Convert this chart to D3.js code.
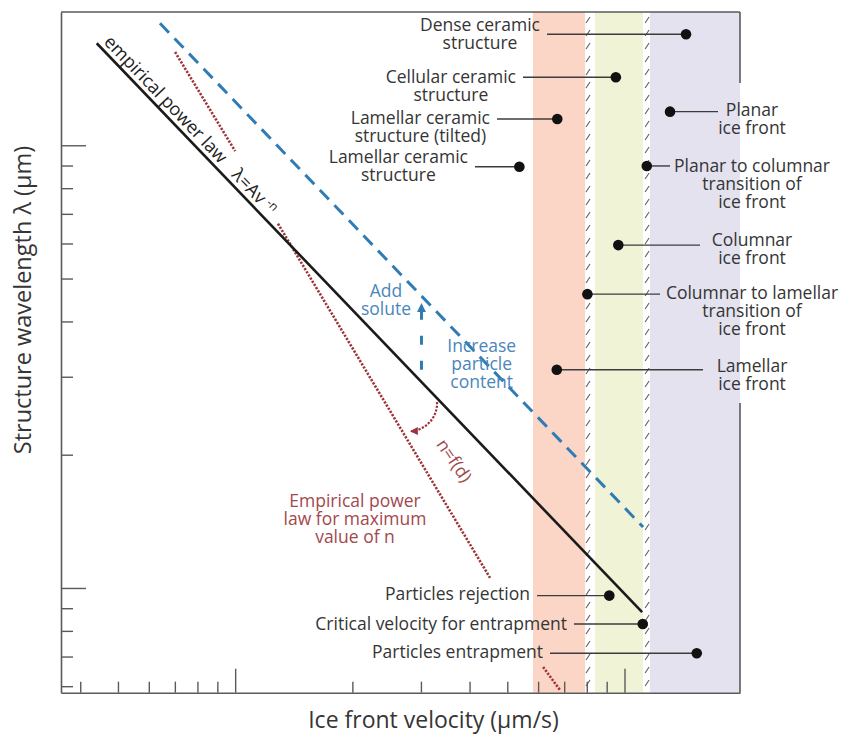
<!DOCTYPE html>
<html><head><meta charset="utf-8">
<script src="https://cdn.jsdelivr.net/npm/d3@7"></script>
<style>
body{margin:0;background:#fff;}
svg{display:block;font-family:"Open Sans",sans-serif;}
</style></head><body>
<svg id="chart" width="847" height="736"></svg>
<script>
// ---------------- data ----------------
const xDomain = [3.57, 198];          // ice front velocity (µm/s), log scale
const yDomain = [5.8, 200];           // structure wavelength (µm), log scale
const xMajorTicks = [10, 100];
const xMinorTicks = [4, 5, 6, 7, 8, 9, 20, 30, 40, 50, 60, 70, 80, 90];
const yMajorTicks = [10, 100];
const yMinorTicks = [6, 7, 8, 9, 20, 30, 40, 50, 60, 70, 80, 90];

// ice-front regimes (velocity ranges)
const bandNames = ["lamellar", "columnar", "planar"];
const bandStart = [58.2, 84.0, 116.3];
const bandEnd   = [79.2, 111.6, 198];
const transitionVelocities = [80.6, 114.3];

// power laws [v, lambda]
const empiricalLaw = [[4.41, 170.0], [111.0, 8.82]];
const soluteLaw    = [[6.41, 188.6], [111.6, 13.73]];
const maxNLawSegments = [
  [[7.01, 162.4], [10.0, 97.0]],
  [[12.88, 66.5], [45.15, 10.54]],
  [[61.8, 6.63], [68.3, 5.88]]
];
const addSoluteArrow = [[30.1, 31.1], [30.1, 44.0]];
const nArc = [[33.0, 26.3], [28.1, 22.6]];

// labelled points
const pointLabels = [
  ["Dense ceramic", "structure"],
  ["Cellular ceramic", "structure"],
  ["Lamellar ceramic", "structure (tilted)"],
  ["Lamellar ceramic", "structure"],
  ["Planar", "ice front"],
  ["Planar to columnar", "transition of", "ice front"],
  ["Columnar", "ice front"],
  ["Columnar to lamellar", "transition of", "ice front"],
  ["Lamellar", "ice front"],
  ["Particles rejection"],
  ["Critical velocity for entrapment"],
  ["Particles entrapment"]
];
const pointV = [143.9, 95.0, 67.2, 53.7, 130.9, 114.1, 96.4, 80.3, 67.0, 91.4, 111.4, 153.3];
const pointL = [178.1, 142.4, 114.6, 89.4, 119.1, 89.8, 59.5, 46.1, 31.1, 9.61, 8.29, 7.12];

const soluteText = ["Add", "solute"];
const particleText = ["Increase", "particle", "content"];
const maxNText = ["Empirical power", "law for maximum", "value of n"];
const xTitle = "Ice front velocity (μm/s)";
const yTitle = "Structure wavelength λ (μm)";

// ---------------- layout / style ----------------
const plot = {left: 61, right: 740, top: 12, bottom: 692.7};
const rightGap = [83, 403];
const bandColors = ["#fbd6c6", "#f1f3d6", "#e3e2ee"];
const axisColor = "#5a5a5a";
const textColor = "#353535";
const blue = "#2f7cb5", blueText = "#4a86bb";
const red = "#9c3336", redText = "#a3484d";
const FS = 17.5, LH = 18, BASE = 6.2;
// side, leader-end x (px), first-line centre offset from dot
const labelLayout = [
  {side: "L", leader: 547, dy: -9.6},
  {side: "L", leader: 523, dy: -0.8},
  {side: "L", leader: 497, dy: -1},
  {side: "L", leader: 475, dy: -10.3},
  {side: "R", leader: 718, dy: -2},
  {side: "R", leader: 670, dy: 0},
  {side: "R", leader: 700, dy: -5.5},
  {side: "R", leader: 660, dy: -1.2},
  {side: "R", leader: 703, dy: -4.5},
  {side: "L", leader: 537, dy: -1.7},
  {side: "L", leader: 574, dy: -0.7},
  {side: "L", leader: 550, dy: -1.6}
];
const rightLabelCenter = 752;

const svg = d3.select("#chart");
const x = d3.scaleLog().domain(xDomain).range([plot.left, plot.right]);
const y = d3.scaleLog().domain(yDomain).range([plot.bottom, plot.top]);
const line = d3.line().x(d => x(d[0])).y(d => y(d[1]));

// bands
svg.append("g").selectAll("rect").data(bandNames).join("rect")
  .attr("x", (d, i) => x(bandStart[i]))
  .attr("width", (d, i) => x(bandEnd[i]) - x(bandStart[i]))
  .attr("y", plot.top).attr("height", plot.bottom - plot.top)
  .attr("fill", (d, i) => bandColors[i]);

// hatched transition lines
const hatch = svg.append("g").attr("stroke", "#5e5e5e").attr("stroke-width", 1.1);
transitionVelocities.forEach(v => {
  const cx = x(v);
  d3.range(plot.top + 8, plot.bottom - 2, 13).forEach(yy => {
    hatch.append("line").attr("x1", cx - 2).attr("y1", yy + 3).attr("x2", cx + 2).attr("y2", yy - 3);
  });
});

// axes
function styleAxis(g) {
  g.selectAll(".domain").attr("stroke", axisColor).attr("stroke-width", 1.6);
  g.selectAll(".tick line").attr("stroke", axisColor).attr("stroke-width", 1.4);
}
svg.append("g").attr("transform", `translate(0,${plot.bottom})`)
  .call(d3.axisBottom(x).tickValues(xMinorTicks).tickSize(-11).tickSizeOuter(0).tickFormat(""))
  .call(styleAxis);
svg.append("g").attr("transform", `translate(0,${plot.bottom})`)
  .call(d3.axisBottom(x).tickValues(xMajorTicks).tickSize(-24).tickSizeOuter(0).tickFormat(""))
  .call(g => g.select(".domain").remove()).call(styleAxis);
svg.append("g").attr("transform", `translate(${plot.left},0)`)
  .call(d3.axisLeft(y).tickValues(yMinorTicks).tickSize(-12).tickSizeOuter(0).tickFormat(""))
  .call(styleAxis);
svg.append("g").attr("transform", `translate(${plot.left},0)`)
  .call(d3.axisLeft(y).tickValues(yMajorTicks).tickSize(-25).tickSizeOuter(0).tickFormat(""))
  .call(g => g.select(".domain").remove()).call(styleAxis);
// frame top and right (right broken behind labels)
const frame = svg.append("g").attr("stroke", axisColor).attr("stroke-width", 1.6);
frame.append("line").attr("x1", plot.left).attr("x2", plot.right).attr("y1", plot.top).attr("y2", plot.top);
frame.append("line").attr("x1", plot.right).attr("x2", plot.right).attr("y1", plot.top).attr("y2", rightGap[0]);
frame.append("line").attr("x1", plot.right).attr("x2", plot.right).attr("y1", rightGap[1]).attr("y2", plot.bottom);

// markers
const defs = svg.append("defs");
defs.append("marker").attr("id", "arrBlue").attr("markerUnits", "userSpaceOnUse")
  .attr("viewBox", "0 0 10 10").attr("refX", 10).attr("refY", 5)
  .attr("markerWidth", 9).attr("markerHeight", 9).attr("orient", "auto")
  .append("path").attr("d", "M0,0L10,5L0,10z").attr("fill", blue);
defs.append("marker").attr("id", "arrRed").attr("markerUnits", "userSpaceOnUse")
  .attr("viewBox", "0 0 10 10").attr("refX", 10).attr("refY", 5)
  .attr("markerWidth", 8).attr("markerHeight", 8).attr("orient", "auto")
  .append("path").attr("d", "M0,0L10,5L0,10z").attr("fill", red);

// power-law lines
svg.append("path").attr("d", line(soluteLaw)).attr("fill", "none")
  .attr("stroke", blue).attr("stroke-width", 3).attr("stroke-dasharray", "13,8");
maxNLawSegments.forEach(seg => {
  svg.append("path").attr("d", line(seg)).attr("fill", "none")
    .attr("stroke", red).attr("stroke-width", 2.6).attr("stroke-dasharray", "2.2,1.5");
});
svg.append("path").attr("d", line(empiricalLaw)).attr("fill", "none")
  .attr("stroke", "#1b1b1b").attr("stroke-width", 2.6);

// add solute arrow
const a0 = [x(addSoluteArrow[0][0]), y(addSoluteArrow[0][1])];
const a1 = [x(addSoluteArrow[1][0]), y(addSoluteArrow[1][1])];
svg.append("path").attr("d", `M${a0[0]},${a0[1]}L${a1[0]},${a1[1] + 8}`)
  .attr("stroke", blue).attr("stroke-width", 3).attr("stroke-dasharray", "9,16").attr("fill", "none");
svg.append("path").attr("d", `M${a1[0]},${a1[1] + 9}L${a1[0]},${a1[1]}`)
  .attr("stroke", "none").attr("fill", "none").attr("marker-end", "url(#arrBlue)");

// n = f(d) arc
const s0 = [x(nArc[0][0]), y(nArc[0][1])], s1 = [x(nArc[1][0]), y(nArc[1][1])];
const chord = Math.hypot(s1[0] - s0[0], s1[1] - s0[1]);
svg.append("path").attr("d", `M${s0[0]},${s0[1]}A${chord * 0.7},${chord * 0.7} 0 0 1 ${s1[0]},${s1[1]}`)
  .attr("fill", "none").attr("stroke", red).attr("stroke-width", 2.2).attr("stroke-dasharray", "2.2,1.5")
  .attr("marker-end", "url(#arrRed)");

// labelled points
const lab = svg.append("g").attr("font-size", FS).attr("fill", textColor);
pointLabels.forEach((lines, i) => {
  const L = labelLayout[i];
  const px = x(pointV[i]), py = y(pointL[i]);
  svg.append("line").attr("x1", px).attr("x2", L.leader).attr("y1", py).attr("y2", py)
    .attr("stroke", "#3c3c3c").attr("stroke-width", 1.4);
  svg.append("circle").attr("cx", px).attr("cy", py).attr("r", 5.3).attr("fill", "#111");
  const t = lab.append("text").attr("text-anchor", "middle");
  lines.forEach((s, k) => t.append("tspan").attr("x", 0).attr("y", py + L.dy + k * LH + BASE).text(s));
  const w = t.node().getBBox().width;
  const cx = L.side === "L" ? L.leader - 7 - w / 2 : rightLabelCenter;
  t.selectAll("tspan").attr("x", cx);
});

function block(lines, cx, cy, color) {
  const t = svg.append("text").attr("text-anchor", "middle").attr("font-size", FS).attr("fill", color);
  lines.forEach((s, k) => t.append("tspan").attr("x", cx).attr("y", cy + k * LH + BASE).text(s));
}
block(soluteText, 386, 291, blueText);
block(particleText, 481.7, 346, blueText);
block(maxNText, 355, 501, redText);

// n=f(d) label
svg.append("text").attr("transform", "translate(455,460) rotate(56)")
  .attr("text-anchor", "middle").attr("dominant-baseline", "central")
  .attr("font-size", FS).attr("fill", redText).text("n=f(d)");

// rotated empirical power law label
const e0 = [x(empiricalLaw[0][0]), y(empiricalLaw[0][1])], e1 = [x(empiricalLaw[1][0]), y(empiricalLaw[1][1])];
const ang = Math.atan2(e1[1] - e0[1], e1[0] - e0[0]) * 180 / Math.PI;
const et = svg.append("text").attr("transform", `translate(${e0[0]},${e0[1]}) rotate(${ang})`)
  .attr("x", 4).attr("y", -5).attr("font-size", 18).attr("fill", "#222");
et.append("tspan").text("empirical power law");
et.append("tspan").attr("dx", 16).text("λ=Av");
et.append("tspan").attr("dx", 4).attr("dy", -6).attr("font-size", 12).text("-n");

// axis titles
svg.append("text").attr("x", 433.5).attr("y", 728).attr("text-anchor", "middle")
  .attr("font-size", 23).attr("fill", textColor).text(xTitle);
svg.append("text").attr("transform", "translate(22,300) rotate(-90)").attr("text-anchor", "middle")
  .attr("dominant-baseline", "central").attr("font-size", 23.5).attr("fill", textColor).text(yTitle);
</script>
</body></html>
